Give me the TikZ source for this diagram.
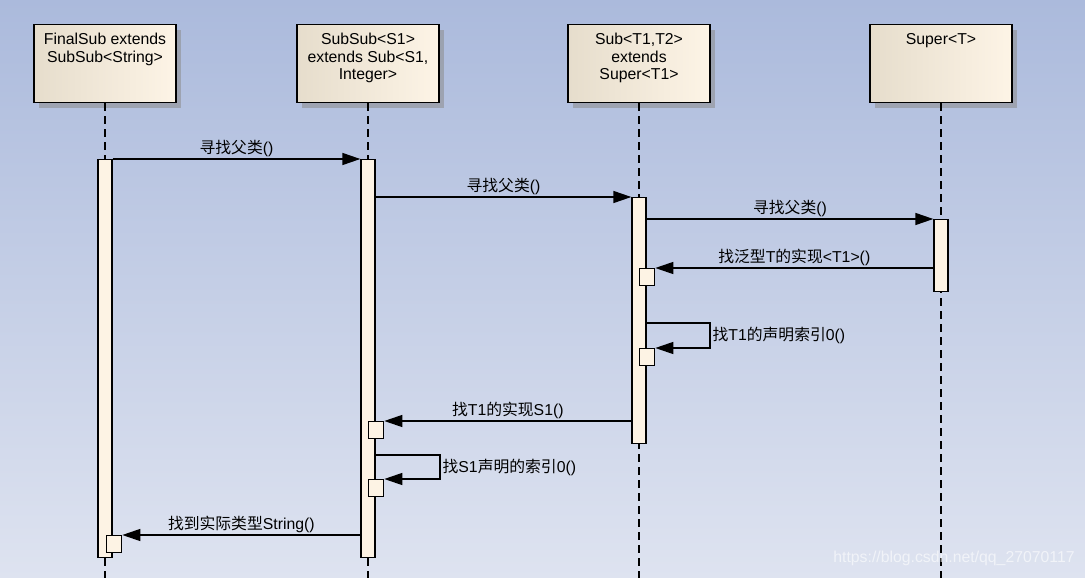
\documentclass[tikz,border=0pt]{standalone}
\usepackage{fontspec}
\setmainfont{Liberation Sans}
\newfontfamily\cjk{Noto Sans CJK SC}
\usepackage{tikz}
\usetikzlibrary{arrows.meta,shadows}
\definecolor{bgtop}{RGB}{171,186,220}
\definecolor{bgbottom}{RGB}{222,227,240}
\definecolor{boxleft}{RGB}{230,221,204}
\definecolor{boxright}{RGB}{253,244,230}
\definecolor{barfill}{RGB}{253,243,228}
\newcommand{\zh}[1]{{\cjk #1}}
\newcommand{\objtext}[1]{\parbox[c][78pt][t]{142pt}{\centering\rule{0pt}{20pt}#1}}
\tikzstyle{object}=[rectangle,draw=black,line width=1.3pt,left color=boxleft,right color=boxright,
inner sep=0pt,anchor=north,drop shadow={shadow xshift=5pt,shadow yshift=-5pt,fill=black!45,opacity=0.55}]
\tikzstyle{lifeline}=[line width=1.5pt,dash pattern=on 8pt off 5pt]
\tikzstyle{actbar}=[rectangle,draw=black,line width=1.3pt,fill=barfill,minimum width=14pt,
inner sep=0pt,anchor=north]
\tikzstyle{retbox}=[rectangle,draw=black,line width=1.3pt,fill=barfill,minimum width=15pt,
minimum height=17pt,inner sep=0pt,anchor=north west]
\tikzstyle{arrow}=[line width=1.3pt,-{Triangle[length=18pt,width=12pt]}]
\tikzstyle{msgtext}=[inner sep=2pt]
\tikzstyle{watermark}=[text=white,text opacity=0.6]
\begin{document}
\begin{tikzpicture}[x=1pt,y=-1pt,font=\fontsize{15.8}{17.5}\selectfont]
    \useasboundingbox (0,0) rectangle (1085,578);
    \shade[top color=bgtop,bottom color=bgbottom] (0,0) rectangle (1085,578);

        \node (finalsub) [object] at (105,24) {\objtext{FinalSub extends\\SubSub<String>}};
        \node (subsub) [object] at (368,24) {\objtext{SubSub<S1>\\extends Sub<S1,\\Integer>}};
        \node (sub) [object] at (639,24) {\objtext{Sub<T1,T2>\\extends\\Super<T1>}};
        \node (super) [object] at (941,24) {\objtext{Super<T>}};

        \coordinate (end1) at (105,578);
        \coordinate (end2) at (368,578);
        \coordinate (end3) at (639,578);
        \coordinate (end4) at (941,578);
        \draw [lifeline] (finalsub.south) -- (end1);
        \draw [lifeline] (subsub.south) -- (end2);
        \draw [lifeline] (sub.south) -- (end3);
        \draw [lifeline] (super.south) -- (end4);

        \node (a1) [actbar,minimum height=398pt] at (105,159) {};
        \node (a2) [actbar,minimum height=398pt] at (368,159) {};
        \node (a3) [actbar,minimum height=246pt] at (639,197) {};
        \node (a4) [actbar,minimum height=72pt] at (941,219) {};

        \node (r1) [retbox] at (639,268) {};
        \node (r2) [retbox] at (639,348) {};
        \node (r3) [retbox] at (368,421) {};
        \node (r4) [retbox] at (368,479) {};
        \node (r5) [retbox] at (106,535) {};

        \coordinate (loop1) at (710,323);
        \coordinate (loop2) at (440,455);

        \draw [arrow] (a1.north east) -- node[msgtext,above]{\zh{寻找父类}()} (a2.north west);
        \draw [arrow] (a2.east |- a3.north) -- node[msgtext,above]{\zh{寻找父类}()} (a3.north west);
        \draw [arrow] (a3.east |- a4.north) -- node[msgtext,above]{\zh{寻找父类}()} (a4.north west);
        \draw [arrow] (a4.west |- r1.north) -- node[msgtext,above]{\zh{找泛型}T\zh{的实现}<T1>()} (r1.north east);
        \draw [arrow] (a3.east |- loop1) -- (loop1) |- node[msgtext,right,pos=0.25]{\zh{找}T1\zh{的声明索引}0()} (r2.north east);
        \draw [arrow] (a3.west |- r3.north) -- node[msgtext,above]{\zh{找}T1\zh{的实现}S1()} (r3.north east);
        \draw [arrow] (a2.east |- loop2) -- (loop2) |- node[msgtext,right,pos=0.25]{\zh{找}S1\zh{声明的索引}0()} (r4.north east);
        \draw [arrow] (a2.west |- r5.north) -- node[msgtext,above]{\zh{找到实际类型}String()} (r5.north east);

        \node (mark) [watermark] at (954,558) {https://blog.csdn.net/qq\_27070117};

    \end{tikzpicture}
\end{document}
